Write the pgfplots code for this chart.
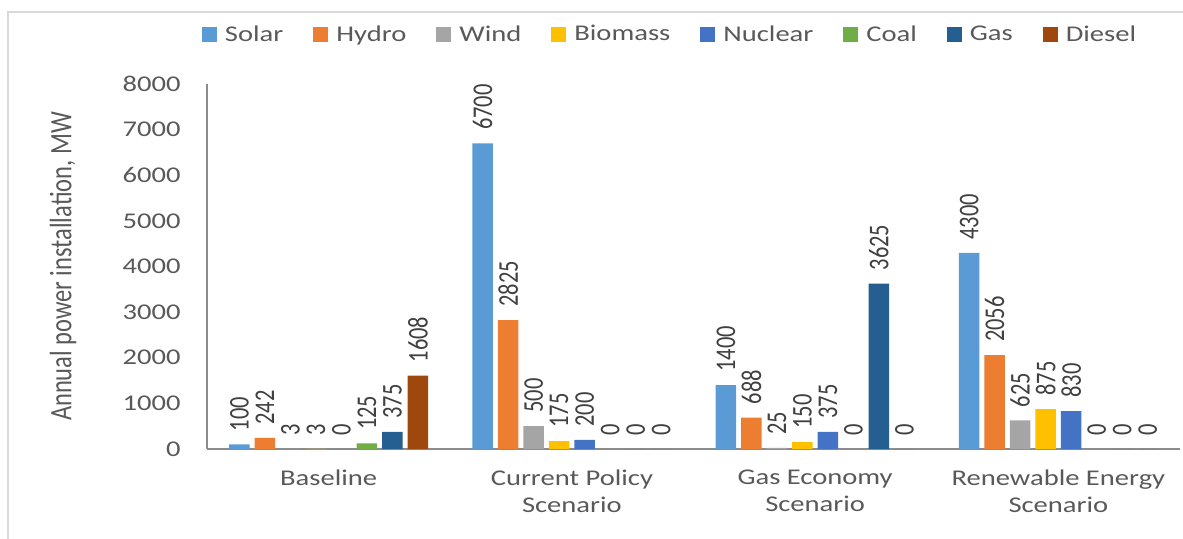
\documentclass[border=0pt]{standalone}
\usepackage{fontspec}
\setmainfont{Carlito}[FakeStretch=1.27]
\newfontfamily\rotfont{Carlito}[FakeStretch=0.787,Scale=1.27]
\usepackage{pgfplots}
\pgfplotsset{compat=1.18}

\definecolor{solar}{HTML}{5B9BD5}
\definecolor{hydro}{HTML}{ED7D31}
\definecolor{wind}{HTML}{A5A5A5}
\definecolor{biomass}{HTML}{FFC000}
\definecolor{nuclear}{HTML}{4472C4}
\definecolor{coal}{HTML}{70AD47}
\definecolor{gas}{HTML}{255E91}
\definecolor{diesel}{HTML}{9E480E}
\definecolor{txtgray}{HTML}{595959}
\definecolor{lblgray}{HTML}{404040}
\definecolor{axgray}{HTML}{8C8C8C}
\definecolor{frame}{HTML}{D9D9D9}

\newcommand{\mainfs}{\fontsize{11.25}{13.5}\selectfont}
\pgfplotsset{sqlegend/.style={legend image code/.code={\fill[##1] (0pt,-3.75pt) rectangle (7.5pt,3.75pt);}}}

\begin{document}
\begin{tikzpicture}
\path[use as bounding box] (-103.5pt,-44.5pt) rectangle (488pt,224.5pt);
% chart frame
\draw[draw=frame, line width=1pt] (-99.5pt,-50pt) -- (-99.5pt,218.5pt) -- (500pt,218.5pt);
\begin{axis}[
  at={(0,0)}, anchor=south west,
  scale only axis, width=486.5pt, height=182.5pt,
  ybar=2.5pt, bar width=10.25pt,
  xmin=-0.5, xmax=3.5, ymin=0, ymax=8000,
  xtick={0,1,2,3},
  xticklabels={Baseline,{Current Policy\\Scenario},{Gas Economy\\Scenario},{Renewable Energy\\Scenario}},
  ytick={0,1000,...,8000},
  axis lines*=left,
  axis line style={draw=axgray, line width=0.75pt},
  major tick length=0pt,
  clip=false,
  /pgf/number format/assume math mode=true,
  /pgf/number format/1000 sep={},
  xticklabel style={font=\mainfs, text=txtgray, align=center, anchor=north, inner sep=0pt, yshift=-10pt},
  yticklabel style={font=\mainfs, text=txtgray, anchor=east, inner sep=0pt, xshift=-13pt},
  ylabel={Annual power installation, MW},
  ylabel style={at={(axis description cs:-0.148,0.5)}, anchor=center, font=\rotfont\fontsize{12.25}{14}\selectfont, text=txtgray},
  nodes near coords,
  every node near coord/.append style={rotate=90, anchor=west, inner xsep=6.5pt, inner ysep=0pt, font=\rotfont\mainfs, text=lblgray},
  legend style={draw=none, fill=none, at={(axis description cs:0.479,1.135)}, anchor=center,
    legend columns=-1, font=\mainfs, text=txtgray,
    nodes={inner xsep=4pt, inner ysep=1pt},
    /tikz/every even column/.append style={column sep=11pt}},
]
\addplot[fill=solar, draw=none, sqlegend] coordinates {(0,100) (1,6700) (2,1400) (3,4300)};
\addplot[fill=hydro, draw=none, sqlegend] coordinates {(0,242) (1,2825) (2,688) (3,2056)};
\addplot[fill=wind, draw=none, sqlegend] coordinates {(0,3) (1,500) (2,25) (3,625)};
\addplot[fill=biomass, draw=none, sqlegend] coordinates {(0,3) (1,175) (2,150) (3,875)};
\addplot[fill=nuclear, draw=none, sqlegend] coordinates {(0,0) (1,200) (2,375) (3,830)};
\addplot[fill=coal, draw=none, sqlegend] coordinates {(0,125) (1,0) (2,0) (3,0)};
\addplot[fill=gas, draw=none, sqlegend] coordinates {(0,375) (1,0) (2,3625) (3,0)};
\addplot[fill=diesel, draw=none, sqlegend] coordinates {(0,1608) (1,0) (2,0) (3,0)};
\legend{Solar,Hydro,Wind,Biomass,Nuclear,Coal,Gas,Diesel}
\end{axis}
\end{tikzpicture}
\end{document}
